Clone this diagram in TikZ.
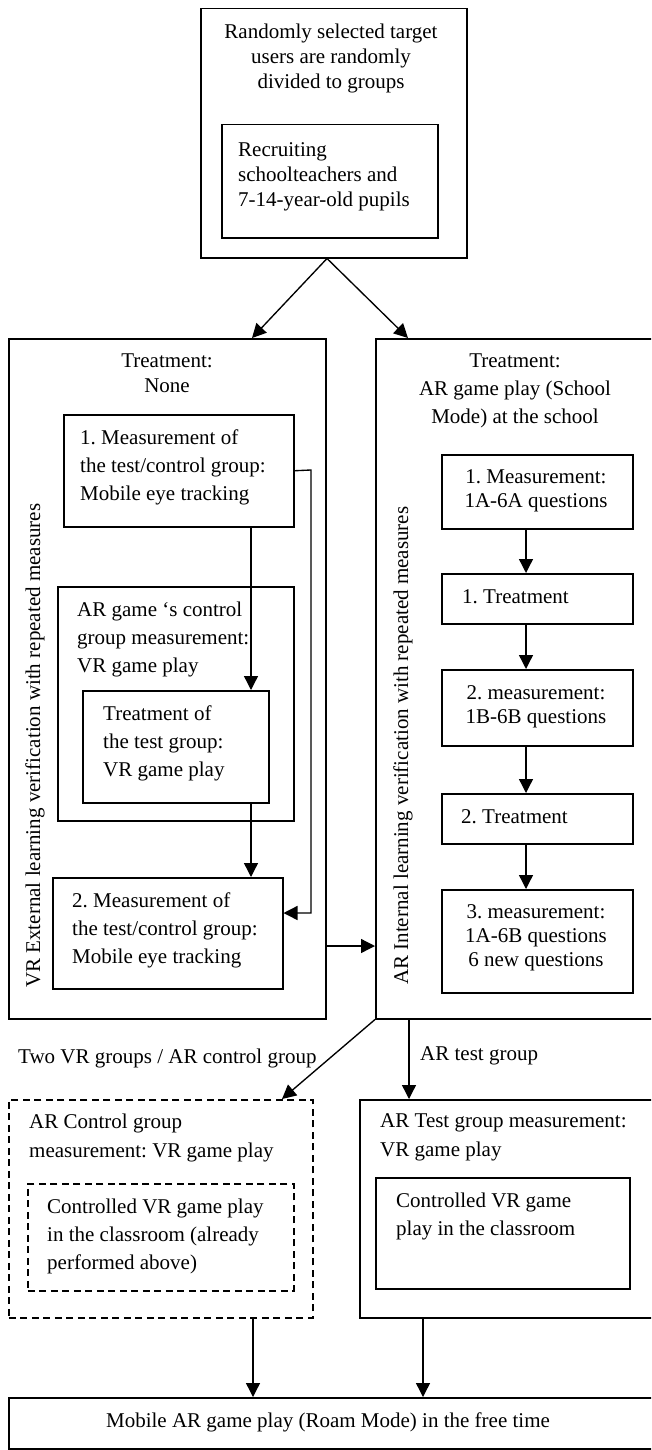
\documentclass[tikz,border=0pt]{standalone}
\usepackage{fontspec}
\setmainfont{Liberation Serif}
\frenchspacing
\usetikzlibrary{arrows.meta,calc}
\begin{document}
\begin{tikzpicture}[x=1pt,y=-1pt,
  box/.style={draw, line width=1.5pt, inner sep=0pt, anchor=north west},
  dbox/.style={box, dash pattern=on 7pt off 4.5pt},
  lbl/.style={inner sep=0pt, font=\fontsize{21}{28}\selectfont},
  lblA/.style={inner sep=0pt, font=\fontsize{21}{25}\selectfont},
  lblB/.style={inner sep=0pt, font=\fontsize{21}{24}\selectfont},
  lblC/.style={inner sep=0pt, font=\fontsize{21}{29}\selectfont},
  conn/.style={line width=1.35pt, -{Triangle[width=14pt,length=14pt]}}
]
\useasboundingbox (0,0) rectangle (651,1450);
\clip (0,0) rectangle (651,1450);

% ---------- top block ----------
\node[box, minimum width=266pt, minimum height=249pt] (top) at (200,8) {};
\node[box, minimum width=216pt, minimum height=113pt] (recruit) at (221,124) {};
\node[lblA, anchor=north, align=center] (toptxt) at (331,23.7)
  {Randomly selected target\\users are randomly\\divided to groups};
\node[lblA, anchor=north west, align=left] (recruittxt) at (238,142.7)
  {Recruiting\\schoolteachers and\\7-14-year-old pupils};

% ---------- VR branch ----------
\node[box, minimum width=317pt, minimum height=680pt] (vr) at (8,338) {};
\node[lblA, anchor=north, align=center] (vrhead) at (167,353.7) {Treatment:\\None};
\node[box, minimum width=230pt, minimum height=112pt] (m1) at (63,414) {};
\node[lbl, anchor=north west, align=left] (m1txt) at (80,429.7)
  {1. Measurement of\\the test/control group:\\Mobile eye tracking};
\node[box, minimum width=236pt, minimum height=234pt] (ctrl) at (57,586) {};
\node[lbl, anchor=north west, align=left] (ctrltxt) at (77,601.7)
  {AR game ‘s control\\group measurement:\\VR game play};
\node[box, minimum width=186pt, minimum height=112pt] (tvr) at (82,690) {};
\node[lbl, anchor=north west, align=left] (tvrtxt) at (103,705.7)
  {Treatment of\\the test group:\\VR game play};
\node[box, minimum width=230pt, minimum height=111pt] (m2) at (52,877) {};
\node[lbl, anchor=north west, align=left] (m2txt) at (72,892.7)
  {2. Measurement of\\the test/control group:\\Mobile eye tracking};
\node[lbl, rotate=90, anchor=base west] (vrside) at (40,988)
  {VR External learning verification with repeated measures};

% ---------- AR branch ----------
\node[box, minimum width=285pt, minimum height=680pt] (ar) at (375,338) {};
\node[lbl, anchor=north, align=center] (arhead) at (515,353.7)
  {Treatment:\\AR game play (School\\Mode) at the school};
\node[box, minimum width=191pt, minimum height=74pt] (q1) at (441,454) {};
\node[lblB, anchor=north, align=center] (q1txt) at (536,469.7)
  {1. Measurement:\\1A-6A questions};
\node[box, minimum width=191pt, minimum height=50pt] (t1) at (441,573) {};
\node[lbl, anchor=base west] (t1txt) at (462,603) {1. Treatment};
\node[box, minimum width=191pt, minimum height=76pt] (q2) at (441,669) {};
\node[lblB, anchor=north, align=center] (q2txt) at (536,685.7)
  {2. measurement:\\1B-6B questions};
\node[box, minimum width=191pt, minimum height=50pt] (t2) at (441,793) {};
\node[lbl, anchor=base west] (t2txt) at (461,823) {2. Treatment};
\node[box, minimum width=191pt, minimum height=103pt] (q3) at (441,889) {};
\node[lblB, anchor=north, align=center] (q3txt) at (536,904.7)
  {3. measurement:\\1A-6B questions\\6 new questions};
\node[lbl, rotate=90, anchor=base west] (arside) at (408,985)
  {AR Internal learning verification with repeated measures};

% ---------- follow-up groups ----------
\node[dbox, minimum width=304pt, minimum height=218pt] (cg) at (8,1099) {};
\node[lblC, anchor=north west, align=left] (cgtxt) at (29,1113.7)
  {AR Control group\\measurement: VR game play};
\node[dbox, minimum width=266pt, minimum height=107pt] (cin) at (27,1183) {};
\node[lbl, anchor=north west, align=left] (cintxt) at (47,1198.7)
  {Controlled VR game play\\in the classroom (already\\performed above)};
\node[box, minimum width=301pt, minimum height=218pt] (tg) at (359,1099) {};
\node[lblC, anchor=north west, align=left] (tgtxt) at (380,1113.7)
  {AR Test group measurement:\\VR game play};
\node[box, minimum width=254pt, minimum height=111pt] (tin) at (375,1177) {};
\node[lbl, anchor=north west, align=left] (tintxt) at (396,1192.7)
  {Controlled VR game\\play in the classroom};
\node[box, minimum width=652pt, minimum height=51pt] (final) at (8,1397) {};
\node[lbl, anchor=base] (finaltxt) at (328,1427)
  {Mobile AR game play (Roam Mode) in the free time};

\node[lbl, anchor=base west] (lblcontrol) at (18,1063) {Two VR groups / AR control group};
\node[lbl, anchor=base west] (lbltest) at (420,1060) {AR test group};

% ---------- connectors ----------
\coordinate (xs) at (327,0);
\coordinate (xl) at (252,0);
\coordinate (xr) at (408,0);
\draw[conn] (top.south -| xs) -- (vr.north -| xl);
\draw[conn] (top.south -| xs) -- (ar.north -| xr);

\coordinate (xa) at (251,0);
\draw[conn] (m1.south -| xa) -- (tvr.north -| xa);
\draw[conn] (tvr.south -| xa) -- (m2.north -| xa);
\coordinate (ela) at (311,470);
\coordinate (elb) at (311,913);
\draw[conn] (m1.east) -- (ela) -- (elb) -- (m2.east |- elb);

\coordinate (ya) at (0,946);
\draw[conn] (vr.east |- ya) -- (ar.west |- ya);

\coordinate (xb) at (526,0);
\draw[conn] (q1.south -| xb) -- (t1.north -| xb);
\draw[conn] (t1.south -| xb) -- (q2.north -| xb);
\draw[conn] (q2.south -| xb) -- (t2.north -| xb);
\draw[conn] (t2.south -| xb) -- (q3.north -| xb);

\coordinate (xc) at (282,0);
\coordinate (xd) at (409,0);
\draw[conn] (ar.south west) -- (cg.north -| xc);
\draw[conn] (ar.south -| xd) -- (tg.north -| xd);

\coordinate (xe) at (253,0);
\coordinate (xf) at (423,0);
\draw[conn] (cg.south -| xe) -- (final.north -| xe);
\draw[conn] (tg.south -| xf) -- (final.north -| xf);
\end{tikzpicture}
\end{document}
